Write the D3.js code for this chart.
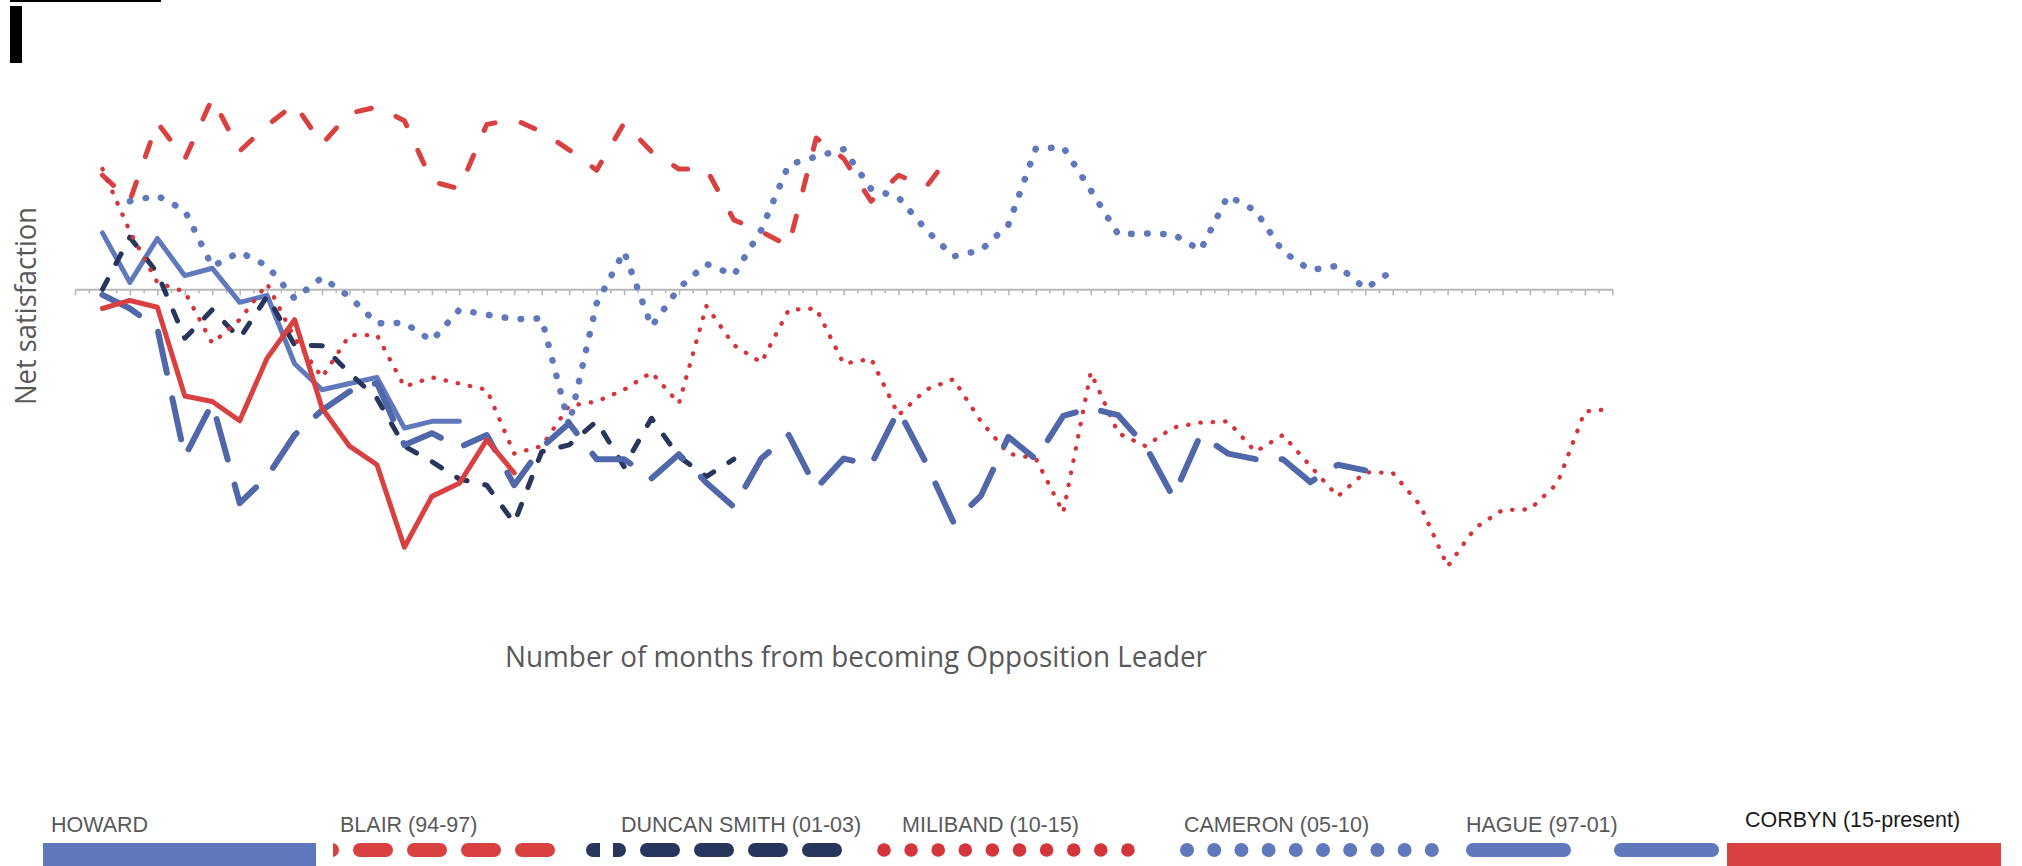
<!DOCTYPE html>
<html lang="en">
<head>
    <meta charset="UTF-8">
    <title>Net satisfaction of opposition leaders</title>
    <script src="https://cdn.jsdelivr.net/npm/d3@7"></script>
    <style>
        body {
            margin: 0;
            background: white;
        }
        svg {
            display: block;
        }
    </style>
</head>
<body>
    <svg></svg>
    <script>
        // Months from becoming opposition leader (one category per month)
        var monthCount = 56;

        // Net satisfaction, month by month (first value sits at the start month)
        var howardStart = 1;
        var howard = [9.1, 1.1, 8.2, 2.2, 3.4, -2.1, -1.0, -12.0, -16.2, -15.2, -14.2, -22.4, -21.3, -21.3];

        var blairStart = 1;
        var blair = [18.4, 14.3, 26.9, 21.0, 30.8, 22.3, 26.4, 29.9, 23.4, 28.4, 29.4, 27.2, 17.4, 16.2, 26.6, 27.4,
            25.4, 22.5, 19.2, 26.8, 22.2, 19.4, 19.4, 11.2, 9.3, 7.0, 24.4, 21.1, 14.2, 18.4, 16.5, 22.3];

        var duncanSmithStart = 1;
        var duncanSmith = [0.0, 8.4, 2.6, -7.9, -3.3, -7.9, -1.1, -9.0, -9.1, -13.5, -17.6, -25.3, -27.8, -30.6, -31.6, -37.7,
            -26.2, -25.1, -21.3, -28.6, -20.8, -27.0, -30.2, -27.4];

        var milibandStart = 1;
        var miliband = [19.4, 9.3, 1.1, -0.4, -8.7, -4.9, 0.9, -7.9, -14.2, -7.4, -7.4, -15.7, -14.2, -15.2, -16.2, -26.5,
            -25.3, -18.8, -18.1, -16.2, -13.4, -18.4, -2.7, -9.0, -11.8, -3.3, -3.1, -12.0, -11.2, -20.3, -16.2, -14.5,
            -21.3, -26.5, -27.3, -36.0, -13.4, -23.2, -25.3, -22.3, -21.5, -21.3, -26.2, -23.5, -28.5, -33.4, -29.5, -29.6,
            -34.8, -44.7, -38.5, -35.6, -35.5, -31.3, -19.7, -19.3];

        var cameronStart = 2;
        var cameron = [14.2, 15.1, 12.7, 3.7, 6.0, 3.8, -1.5, 1.9, -1.2, -5.5, -5.4, -8.3, -3.3, -4.1, -4.8, -4.7,
            -21.9, -2.3, 6.1, -6.0, 0.2, 4.1, 2.3, 9.6, 20.1, 21.4, 22.6, 16.2, 14.8, 9.6, 5.3, 6.3,
            10.4, 22.7, 22.9, 16.0, 8.9, 9.0, 8.9, 6.3, 15.1, 12.7, 6.1, 3.1, 3.8, 0.1, 3.0];

        var hagueStart = 1;
        var hague = [-0.9, -3.1, -6.3, -27.0, -18.4, -34.5, -30.2, -23.5, -19.5, -16.5, -15.1, -25.1, -23.2, -25.5, -23.5, -31.6,
            -25.5, -21.6, -27.4, -27.4, -30.5, -26.6, -31.2, -35.1, -27.3, -23.5, -32.1, -27.3, -28.3, -19.5, -28.0, -37.6,
            -33.3, -23.8, -27.4, -20.4, -19.2, -20.3, -25.3, -33.5, -23.5, -26.5, -27.4, -27.4, -31.1, -28.3, -29.2];

        var corbynStart = 1;
        var corbyn = [-3.1, -1.8, -2.9, -17.2, -18.1, -21.2, -11.1, -4.9, -19.2, -25.3, -28.3, -41.6, -33.4, -31.3, -24.3, -29.6];

        // Legend labels
        var legendLabels = ["HOWARD", "BLAIR (94-97)", "DUNCAN SMITH (01-03)", "MILIBAND (10-15)",
            "CAMERON (05-10)", "HAGUE (97-01)", "CORBYN (15-present)"];

        var xTitle = "Number of months from becoming Opposition Leader";
        var yTitle = "Net satisfaction";

        // Colours
        var blueLight = "#6079bd";
        var blueMid = "#5068a9";
        var navy = "#28365e";
        var red = "#d94141";
        var redDot = "#d3353a";

        // Series styles, drawn in legend order
        var series = [
            {values: howard, start: howardStart, color: blueLight, width: 5, dash: null},
            {values: blair, start: blairStart, color: red, width: 5, dash: "15,27"},
            {values: duncanSmith, start: duncanSmithStart, color: navy, width: 5, dash: "11,18"},
            {values: miliband, start: milibandStart, color: redDot, width: 4.3, dash: "0.5,11.9"},
            {values: cameron, start: cameronStart, color: blueLight, width: 6.5, dash: "0.5,15.5"},
            {values: hague, start: hagueStart, color: blueMid, width: 6, dash: "42,26"},
            {values: corbyn, start: corbynStart, color: red, width: 5, dash: null}
        ];

        var width = 2022;
        var height = 866;
        var svg = d3.select("svg").attr("width", width).attr("height", height);

        // Scales
        var x = d3.scaleLinear().domain([0, monthCount]).range([75, 1612.3]);
        var y = d3.scaleLinear().domain([-50, 40]).range([289.3 + 50 * 6.2, 289.3 - 40 * 6.2]);

        // Decorations at the top left
        svg.append("rect").attr("x", 10).attr("y", 0).attr("width", 151).attr("height", 2).attr("fill", "#000");
        svg.append("rect").attr("x", 10).attr("y", 6).attr("width", 12).attr("height", 57).attr("fill", "#000");

        // Category axis on the zero line, long ticks each month and short ones halfway
        var axis = d3.axisBottom(x)
            .tickValues(d3.range(0, monthCount + 0.25, 0.5))
            .tickSizeInner(6)
            .tickSizeOuter(0)
            .tickFormat("");
        var gAxis = svg.append("g")
            .attr("transform", "translate(0," + y(0) + ")")
            .call(axis);
        gAxis.select(".domain").attr("stroke", "#b9b9b9").attr("stroke-width", 2);
        gAxis.selectAll(".tick line")
            .attr("stroke", "#b9b9b9")
            .attr("stroke-width", 1.6)
            .attr("y2", function(d) { return d % 1 === 0 ? 6 : 4; });

        // Lines
        var line = d3.line()
            .x(function(d) { return x(d.m); })
            .y(function(d) { return y(d.v); });

        series.forEach(function(s) {
            var pts = s.values.map(function(v, i) { return {m: s.start + i, v: v}; });
            svg.append("path")
                .datum(pts)
                .attr("d", line)
                .attr("fill", "none")
                .attr("stroke", s.color)
                .attr("stroke-width", s.width)
                .attr("stroke-linejoin", "round")
                .attr("stroke-linecap", "round")
                .attr("stroke-dasharray", s.dash);
        });

        // Axis titles
        svg.append("text")
            .attr("x", 856)
            .attr("y", 667)
            .attr("text-anchor", "middle")
            .attr("textLength", 702)
            .attr("lengthAdjust", "spacingAndGlyphs")
            .style("font-family", "'Segoe UI', 'Open Sans', sans-serif")
            .style("font-size", "30px")
            .style("fill", "#595959")
            .text(xTitle);

        svg.append("text")
            .attr("transform", "translate(36,306) rotate(-90)")
            .attr("text-anchor", "middle")
            .attr("textLength", 198)
            .attr("lengthAdjust", "spacingAndGlyphs")
            .style("font-family", "'Segoe UI', 'Open Sans', sans-serif")
            .style("font-size", "29px")
            .style("fill", "#595959")
            .text(yTitle);

        // Legend
        var legendX = [51, 340, 621, 902, 1184, 1466, 1745];
        var legend = svg.append("g");
        legendLabels.forEach(function(label, i) {
            var last = i === legendLabels.length - 1;
            legend.append("text")
                .attr("x", legendX[i])
                .attr("y", last ? 827 : 832)
                .style("font-family", "'Liberation Sans', Arial, sans-serif")
                .style("font-size", "21.5px")
                .style("fill", last ? "#1a1a1a" : "#595959")
                .text(label);
        });

        var defs = svg.append("defs");
        defs.append("clipPath").attr("id", "blairClip")
            .append("rect").attr("x", 333).attr("y", 830).attr("width", 240).attr("height", 40);

        // Howard: solid block
        legend.append("rect").attr("x", 43).attr("y", 843).attr("width", 273).attr("height", 23).attr("fill", blueLight);

        // Blair: dashes
        legend.append("line")
            .attr("x1", 306).attr("x2", 549).attr("y1", 850).attr("y2", 850)
            .attr("stroke", red).attr("stroke-width", 14)
            .attr("stroke-linecap", "round")
            .attr("stroke-dasharray", "26,28")
            .attr("clip-path", "url(#blairClip)");

        // Duncan Smith: dashes, the first one split
        legend.append("line")
            .attr("x1", 593).attr("x2", 835).attr("y1", 850).attr("y2", 850)
            .attr("stroke", navy).attr("stroke-width", 14)
            .attr("stroke-linecap", "round")
            .attr("stroke-dasharray", "26,28");
        legend.append("rect").attr("x", 600).attr("y", 840).attr("width", 13).attr("height", 20).attr("fill", "white");

        // Miliband and Cameron: dots
        legend.selectAll("circle.mil")
            .data(d3.range(10)).enter().append("circle")
            .attr("class", "mil")
            .attr("cx", function(i) { return 884 + 27.1 * i; })
            .attr("cy", 850).attr("r", 6.8).attr("fill", redDot);
        legend.selectAll("circle.cam")
            .data(d3.range(10)).enter().append("circle")
            .attr("class", "cam")
            .attr("cx", function(i) { return 1187 + 27.2 * i; })
            .attr("cy", 850).attr("r", 7).attr("fill", blueLight);

        // Hague: long dashes
        legend.append("line")
            .attr("x1", 1473).attr("x2", 1712).attr("y1", 850).attr("y2", 850)
            .attr("stroke", blueLight).attr("stroke-width", 14)
            .attr("stroke-linecap", "round")
            .attr("stroke-dasharray", "91,57");

        // Corbyn: solid block
        legend.append("rect").attr("x", 1727).attr("y", 843).attr("width", 274).attr("height", 23).attr("fill", red);
    </script>
</body>
</html>
